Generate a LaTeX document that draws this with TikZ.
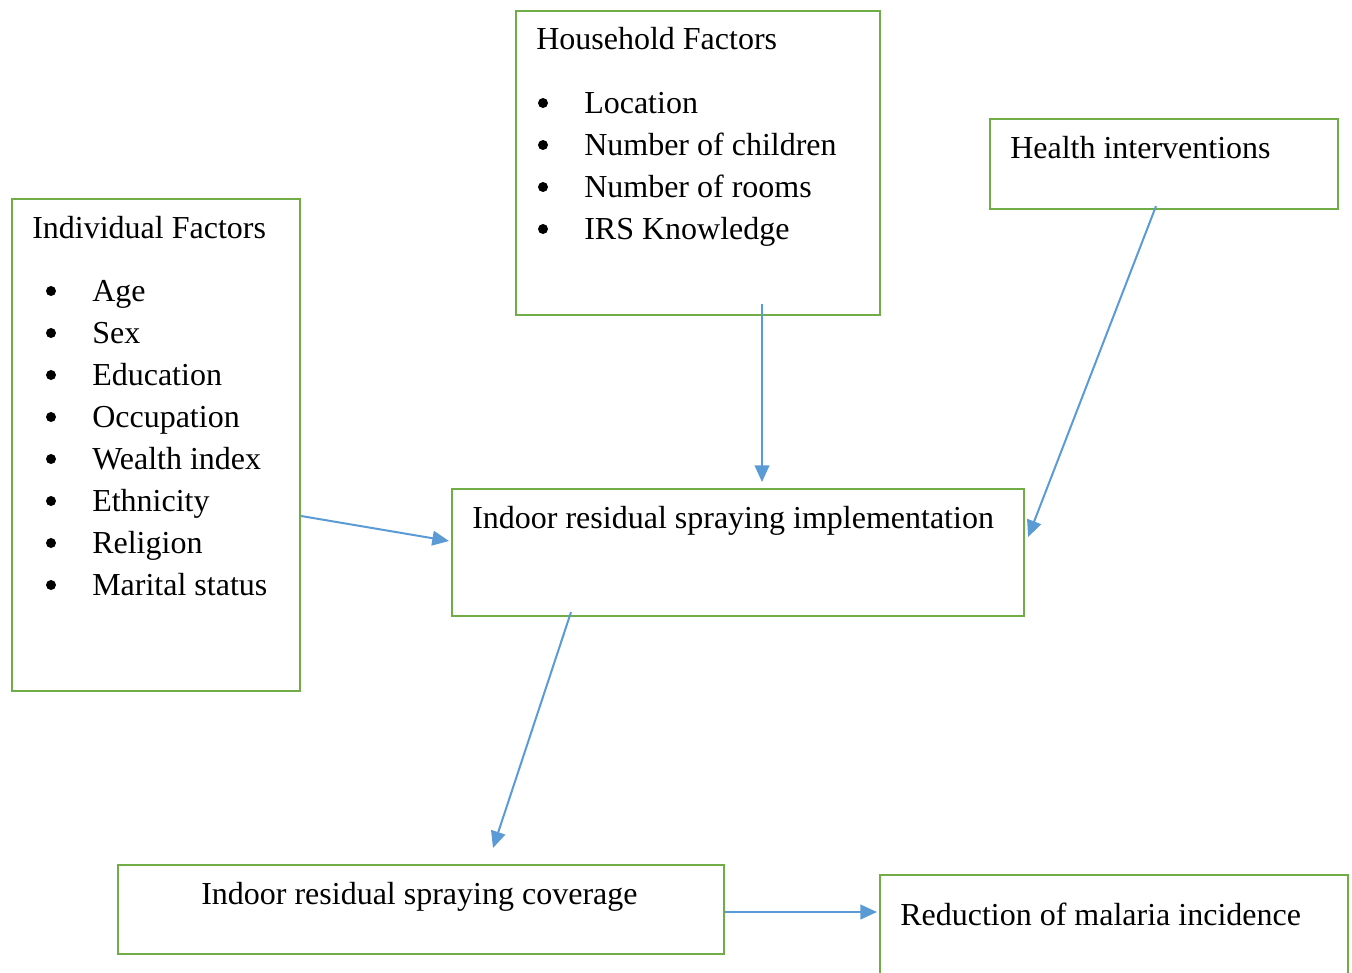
\documentclass[tikz,border=0pt]{standalone}
\usepackage{fontspec}
\setmainfont{Liberation Serif}
\usetikzlibrary{arrows.meta,calc}
\definecolor{boxgreen}{HTML}{70AD47}
\definecolor{arrblue}{HTML}{5B9BD5}
\tikzset{
  box/.style={draw=boxgreen, line width=1.6pt, anchor=north west, inner sep=0pt},
  txt/.style={anchor=base west, inner sep=0pt, font=\fontsize{24}{28}\selectfont},
  bul/.style={circle, fill=black, inner sep=0pt, minimum size=7.5pt},
  arr/.style={draw=arrblue, line width=1.5pt, -{Triangle[length=12.5pt,width=11pt]}},
}
\begin{document}
\begin{tikzpicture}[x=0.75pt,y=-0.75pt]
\useasboundingbox (0,0) rectangle (1352,972);
% boxes
\node[box, minimum width=364*0.75pt, minimum height=304*0.75pt] (hh) at (515,10) {};
\node[box, minimum width=348*0.75pt, minimum height=90*0.75pt] (hi) at (989,118) {};
\node[box, minimum width=288*0.75pt, minimum height=492*0.75pt] (ind) at (11,198) {};
\node[box, minimum width=572*0.75pt, minimum height=127*0.75pt] (irs) at (451,488) {};
\node[box, minimum width=606*0.75pt, minimum height=89*0.75pt] (cov) at (117,864) {};
\node[box, minimum width=468*0.75pt, minimum height=140*0.75pt] (red) at (879,874) {};
% household text
\node[txt] (hht) at (536,49) {Household Factors};
\foreach \t [count=\i] in {Location,Number of children,Number of rooms,IRS Knowledge}{
  \node[bul] (hhb\i) at (543,{103+42*(\i-1)}) {};
  \node[txt] (hhi\i) at (584,{113+42*(\i-1)}) {\t};
}
\node[txt] (hit) at (1010,158) {Health interventions};
\node[txt] (indt) at (32,238) {Individual Factors};
\foreach \t [count=\i] in {Age,Sex,Education,Occupation,Wealth index,Ethnicity,Religion,Marital status}{
  \node[bul] (indb\i) at (51,{291+42*(\i-1)}) {};
  \node[txt] (indi\i) at (92,{301+42*(\i-1)}) {\t};
}
\node[txt] (irst) at (472,528) {Indoor residual spraying implementation};
\node[txt] (covt) at (201,904) {Indoor residual spraying coverage};
\node[txt] (redt) at (900,925) {Reduction of malaria incidence};
% arrows
\draw[arr] ([xshift=247*0.75pt,yshift=9pt]hh.south west) -- ([xshift=311*0.75pt,yshift=4.5pt]irs.north west);
\draw[arr] ([xshift=167*0.75pt,yshift=3pt]hi.south west) -- ([xshift=3*0.75pt,yshift=-49*0.75pt]irs.north east);
\draw[arr] ([yshift=-318*0.75pt]ind.north east) -- ([xshift=-2*0.75pt,yshift=-53*0.75pt]irs.north west);
\draw[arr] ([xshift=120*0.75pt,yshift=3.75pt]irs.south west) -- ([xshift=376*0.75pt,yshift=12pt]cov.north west);
\draw[arr] ([yshift=-48*0.75pt]cov.north east) -- ([xshift=-2*0.75pt,yshift=-38*0.75pt]red.north west);
\end{tikzpicture}
\end{document}
